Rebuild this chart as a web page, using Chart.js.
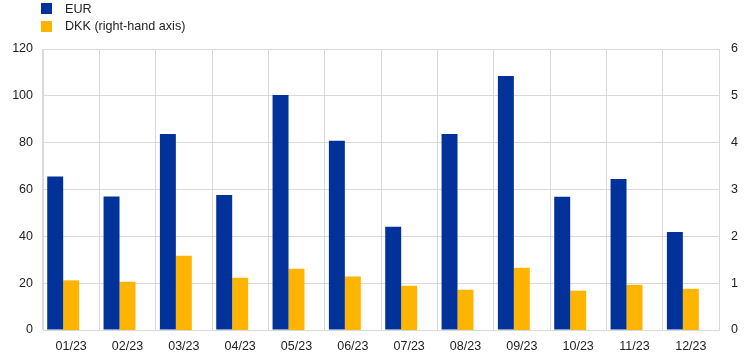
<!DOCTYPE html>
<html>
<head>
<meta charset="utf-8">
<script src="https://cdn.jsdelivr.net/npm/chart.js@4"></script>
<style>
  html, body { margin: 0; padding: 0; background: #fff; }
  #wrap { position: relative; width: 745px; height: 359px; }
  #legend { position: absolute; left: 41px; top: 0px; font-family: "Liberation Sans", Arial, sans-serif; font-size: 12.6px; color: #222; }
  .item { display: flex; align-items: center; height: 17.5px; }
  .sw { width: 11px; height: 11px; margin-right: 13px; }
</style>
</head>
<body>
<div id="wrap">
  <canvas id="c" width="745" height="359"></canvas>
  <div id="legend"></div>
</div>
<script>
const categories = ["01/23","02/23","03/23","04/23","05/23","06/23","07/23","08/23","09/23","10/23","11/23","12/23"];
const eurValues = [65.5, 57.0, 83.7, 57.7, 100.4, 80.8, 44.1, 83.7, 108.5, 56.9, 64.5, 41.9];
const dkkValues = [1.06, 1.03, 1.585, 1.115, 1.31, 1.14, 0.945, 0.86, 1.33, 0.84, 0.965, 0.88];
const emptySlot = [null, null, null, null, null, null, null, null, null, null, null, null];
const seriesNames = ["EUR", "DKK (right-hand axis)"];
const seriesColors = ["#003299", "#ffb400"];

const legend = document.getElementById('legend');
seriesNames.forEach((n, i) => {
  const d = document.createElement('div'); d.className = 'item';
  const s = document.createElement('span'); s.className = 'sw'; s.style.background = seriesColors[i];
  const t = document.createElement('span'); t.textContent = n;
  d.appendChild(s); d.appendChild(t); legend.appendChild(d);
});

Chart.defaults.font.family = '"Liberation Sans", Arial, sans-serif';
Chart.defaults.font.size = 12.5;
Chart.defaults.color = '#222';

new Chart(document.getElementById('c'), {
  type: 'bar',
  data: {
    labels: categories,
    datasets: [
      { label: seriesNames[0], data: eurValues, backgroundColor: seriesColors[0], yAxisID: 'y', categoryPercentage: 0.85, barPercentage: 1 },
      { label: seriesNames[1], data: dkkValues, backgroundColor: seriesColors[1], yAxisID: 'y1', categoryPercentage: 0.85, barPercentage: 1 },
      { label: '', data: emptySlot, backgroundColor: 'rgba(0,0,0,0)', yAxisID: 'y', categoryPercentage: 0.85, barPercentage: 1 }
    ]
  },
  options: {
    responsive: false,
    animation: false,
    layout: { padding: { top: 49, left: 0, right: 0, bottom: 0 } },
    plugins: { legend: { display: false }, tooltip: { enabled: false } },
    scales: {
      x: {
        grid: { color: '#d9d9d9', offset: true, drawTicks: false, lineWidth: 1 },
        border: { color: '#d9d9d9' },
        ticks: { padding: 9, maxRotation: 0 },
        afterFit: s => { s.height = 29; }
      },
      y: {
        position: 'left', min: 0, max: 120,
        ticks: { stepSize: 20, padding: 10 },
        grid: { color: '#d9d9d9', drawTicks: false },
        border: { color: '#d9d9d9' },
        afterFit: s => { s.width = 43; }
      },
      y1: {
        position: 'right', min: 0, max: 6,
        ticks: { stepSize: 1, padding: 12 },
        grid: { display: false, drawTicks: false },
        border: { color: '#d9d9d9' },
        afterFit: s => { s.width = 26; }
      }
    }
  }
});
</script>
</body>
</html>
